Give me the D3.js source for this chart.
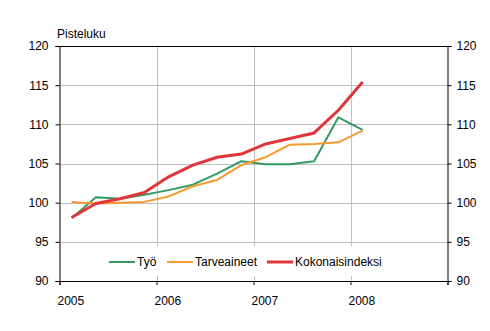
<!DOCTYPE html>
<html>
<head>
<meta charset="utf-8">
<script src="https://cdn.jsdelivr.net/npm/d3@7/dist/d3.min.js"></script>
<style>
  html, body { margin: 0; padding: 0; background: #fff; }
  svg { display: block; }
  text { font-family: "Liberation Sans", Arial, sans-serif; font-size: 12px; fill: #000; }
</style>
</head>
<body>
<svg id="chart" width="490" height="331"></svg>
<script>
// Quarterly index values, 2005 Q1 – 2008 Q1 (2005 = 100)
const quarters = ["2005Q1","2005Q2","2005Q3","2005Q4","2006Q1","2006Q2","2006Q3","2006Q4",
                  "2007Q1","2007Q2","2007Q3","2007Q4","2008Q1","2008Q2","2008Q3","2008Q4"];
const tyo        = [98.0, 100.7, 100.5, 101.0, 101.6, 102.3, 103.7, 105.3, 104.9, 104.9, 105.3, 110.9, 109.3];
const tarveaineet = [100.1, 99.9, 100.0, 100.1, 100.8, 102.1, 102.9, 104.8, 105.8, 107.4, 107.5, 107.7, 109.2];
const kokonais   = [98.1, 99.9, 100.5, 101.3, 103.3, 104.8, 105.8, 106.2, 107.5, 108.2, 108.9, 111.8, 115.4];
const yearLabels = ["2005", "2006", "2007", "2008"];
const yTicks = [90, 95, 100, 105, 110, 115, 120];

const series = [
  { name: "Työ", values: tyo, color: "#339966", width: 2 },
  { name: "Tarveaineet", values: tarveaineet, color: "#f59a30", width: 2 },
  { name: "Kokonaisindeksi", values: kokonais, color: "#e0363a", width: 3 }
];

const plot = { left: 59.5, right: 447.5, top: 46, bottom: 281 };
const svg = d3.select("#chart");

const x = d3.scaleBand().domain(quarters).range([plot.left, plot.right]);
const y = d3.scaleLinear().domain([90, 120]).range([plot.bottom, plot.top]);

// Horizontal gridlines
svg.append("g").selectAll("line").data(yTicks.filter(v => v > 90)).join("line")
  .attr("x1", plot.left).attr("x2", plot.right)
  .attr("y1", d => Math.round(y(d)) + 0.5).attr("y2", d => Math.round(y(d)) + 0.5)
  .attr("stroke", "#c0c0c0").attr("stroke-width", 1);

// Vertical gridlines at year starts
const yearX = yearLabels.map(yr => x(yr + "Q1"));
svg.append("g").selectAll("line").data(yearX.slice(1)).join("line")
  .attr("x1", d => Math.round(d) + 0.5).attr("x2", d => Math.round(d) + 0.5)
  .attr("y1", plot.top).attr("y2", plot.bottom)
  .attr("stroke", "#c0c0c0").attr("stroke-width", 1);

// Series lines
const line = d3.line()
  .x((d, i) => x(quarters[i]) + x.bandwidth() / 2)
  .y(d => y(d));

series.forEach(s => {
  svg.append("path").datum(s.values)
    .attr("d", line)
    .attr("fill", "none")
    .attr("stroke", s.color)
    .attr("stroke-width", s.width)
    .attr("stroke-linejoin", "round");
});

// Axes
const yLeft = d3.axisLeft(y).tickValues(yTicks).tickSize(4).tickPadding(7);
const gl = svg.append("g").attr("transform", `translate(${plot.left},0)`).call(yLeft);
const yRight = d3.axisRight(y).tickValues(yTicks).tickSize(4).tickPadding(5);
const gr = svg.append("g").attr("transform", `translate(${plot.right},0)`).call(yRight);

const xAxis = d3.axisBottom(d3.scaleLinear().domain([0, 16]).range([plot.left, plot.right]))
  .tickValues([0, 4, 8, 12, 16]).tickSize(4).tickFormat("");
const gx = svg.append("g").attr("transform", `translate(0,${plot.bottom})`).call(xAxis);

[gl, gr, gx].forEach(g => {
  g.select(".domain").attr("stroke", "#000");
  g.selectAll(".tick line").attr("stroke", "#000");
  g.selectAll("text").attr("font-size", 12).attr("font-family", "Liberation Sans, Arial, sans-serif");
});

// Top border of plot area
svg.append("line").attr("x1", plot.left).attr("x2", plot.right)
  .attr("y1", plot.top + 0.5).attr("y2", plot.top + 0.5)
  .attr("stroke", "#000");

// Year labels
svg.append("g").selectAll("text").data(yearLabels).join("text")
  .attr("x", (d, i) => yearX[i] - 2)
  .attr("y", 305)
  .text(d => d);

// Axis title
svg.append("text").attr("x", 57).attr("y", 38).text("Pisteluku");

// Legend
const legend = svg.append("g");
legend.append("rect").attr("x", 104).attr("y", 246).attr("width", 292).attr("height", 30).attr("fill", "#fff");
const legendX = [109, 167, 267];
series.forEach((s, i) => {
  legend.append("line")
    .attr("x1", legendX[i]).attr("x2", legendX[i] + 26)
    .attr("y1", 262).attr("y2", 262)
    .attr("stroke", s.color).attr("stroke-width", s.width);
  legend.append("text").attr("x", legendX[i] + 28).attr("y", 266).text(s.name);
});
</script>
</body>
</html>
